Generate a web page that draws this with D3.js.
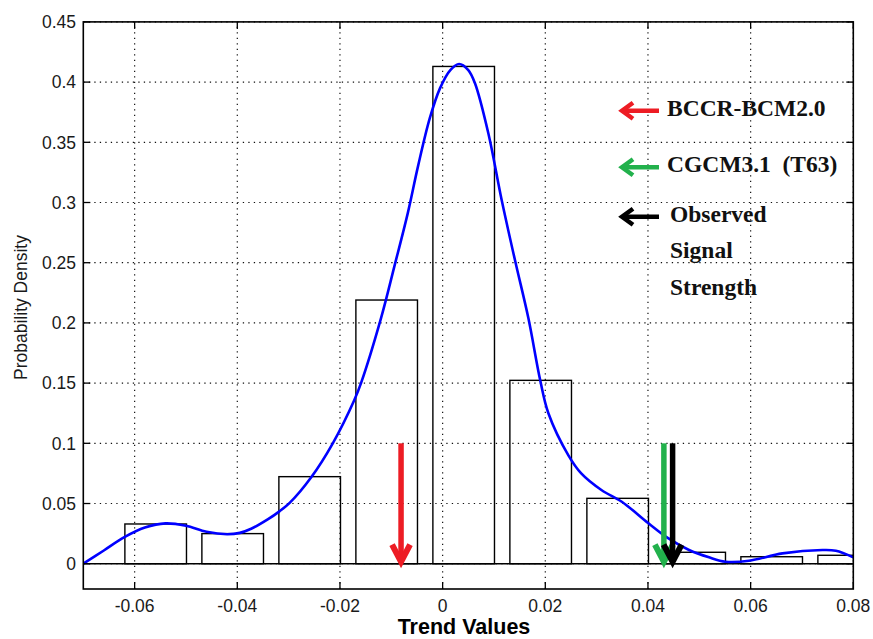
<!DOCTYPE html>
<html>
<head>
<meta charset="utf-8">
<script src="https://cdn.jsdelivr.net/npm/d3@7/dist/d3.min.js"></script>
<style>
  html, body { margin: 0; padding: 0; background: #fff; }
  svg { display: block; }
</style>
</head>
<body>
<svg id="chart" width="873" height="639"></svg>
<script>
// Histogram of trend values (bin centres and probability density)
const binCenters = [-0.0559, -0.0409, -0.0259, -0.0109, 0.0041, 0.0191, 0.0341, 0.0491, 0.0641, 0.0791];
const binDensity = [0.033, 0.025, 0.0723, 0.219, 0.413, 0.1523, 0.0543, 0.0095, 0.0058, 0.007];

// Kernel density estimate of the same sample
const kdeX = [-0.0700, -0.0660, -0.0620, -0.0580, -0.0540, -0.0500, -0.0460, -0.0420, -0.0395, -0.0373,
              -0.0340, -0.0318, -0.0298, -0.0256, -0.0214, -0.0172, -0.0159, -0.0120, -0.0094, -0.0068,
              -0.0048, -0.0025, -0.0005, 0.0015, 0.0032, 0.0050, 0.0063, 0.0089, 0.0115, 0.0141,
              0.0167, 0.0190, 0.0206, 0.0245, 0.0270, 0.0310, 0.0349, 0.0401, 0.0440, 0.0480,
              0.0519, 0.0551, 0.0597, 0.0662, 0.0740, 0.0766, 0.0800];
const kdeY = [0.000, 0.011, 0.022, 0.030, 0.0335, 0.0315, 0.0265, 0.0245, 0.0256, 0.0290,
              0.0370, 0.0435, 0.0505, 0.0718, 0.1000, 0.1360, 0.1500, 0.2040, 0.2470, 0.2910,
              0.3300, 0.3700, 0.3950, 0.4100, 0.4150, 0.4100, 0.3990, 0.3575, 0.3020, 0.2520,
              0.2040, 0.1526, 0.1250, 0.0900, 0.0750, 0.0610, 0.0515, 0.0336, 0.0210, 0.0114,
              0.0053, 0.0017, 0.0025, 0.0086, 0.0114, 0.0108, 0.0053];

// Signal-strength markers (trend value of each model / observation)
const markerNames  = ["BCCR-BCM2.0", "CGCM3.1\u00a0\u00a0(T63)", "Observed"];
const markerTrend  = [-0.0081, 0.0431, 0.0448];
const markerColors = ["#ed1c24", "#22b14c", "#000000"];
const markerTop = 0.1;

// Axis ticks
const xTicks = [-0.06, -0.04, -0.02, 0, 0.02, 0.04, 0.06, 0.08];
const xTickLabels = ["-0.06", "-0.04", "-0.02", "0", "0.02", "0.04", "0.06", "0.08"];
const yTicks = [0, 0.05, 0.1, 0.15, 0.2, 0.25, 0.3, 0.35, 0.4, 0.45];
const yTickLabels = ["0", "0.05", "0.1", "0.15", "0.2", "0.25", "0.3", "0.35", "0.4", "0.45"];

const svg = d3.select("#chart");
const L = 83.3, R = 853.3, T = 21.9, B = 589;

const x = d3.scaleLinear().domain([-0.07, 0.08]).range([L, R]);
const y = d3.scaleLinear().domain([-0.021, 0.45]).range([B, T]);

svg.append("defs").append("clipPath").attr("id", "plotClip")
  .append("rect").attr("x", L).attr("y", T).attr("width", R - L).attr("height", B - T);

// dotted grid
const grid = svg.append("g").attr("stroke", "#111").attr("stroke-width", 1.2)
  .attr("stroke-dasharray", "1.3,4.2");
grid.selectAll("line.gx").data(xTicks).join("line")
  .attr("x1", d => x(d)).attr("x2", d => x(d)).attr("y1", B).attr("y2", T);
grid.selectAll("line.gy").data(yTicks).join("line")
  .attr("y1", d => y(d)).attr("y2", d => y(d)).attr("x1", L).attr("x2", R);

const plot = svg.append("g").attr("clip-path", "url(#plotClip)");

// histogram bars (unfilled)
const step = binCenters[1] - binCenters[0];
const barW = 0.8 * step;
plot.selectAll("rect.bar").data(binCenters).join("rect")
  .attr("x", d => x(d - barW / 2))
  .attr("width", d => x(d + barW / 2) - x(d - barW / 2))
  .attr("y", (d, i) => y(binDensity[i]))
  .attr("height", (d, i) => y(0) - y(binDensity[i]))
  .attr("fill", "none").attr("stroke", "#000").attr("stroke-width", 1.4);

// bar baseline
plot.append("line").attr("x1", L).attr("x2", R).attr("y1", y(0)).attr("y2", y(0))
  .attr("stroke", "#000").attr("stroke-width", 1.4);

// density curve
const line = d3.line().x(d => x(d[0])).y(d => y(d[1])).curve(d3.curveCatmullRom.alpha(0.5));
plot.append("path").datum(kdeX.map((v, i) => [v, kdeY[i]]))
  .attr("d", line).attr("fill", "none").attr("stroke", "#0000ff").attr("stroke-width", 2.6);

// vertical marker arrows
markerTrend.forEach((v, i) => {
  const g = svg.append("g").attr("stroke", markerColors[i]).attr("fill", "none")
    .attr("stroke-linecap", "butt");
  const xp = x(v), y0 = y(markerTop), y1 = y(0) + 1;
  g.append("line").attr("x1", xp).attr("x2", xp).attr("y1", y0).attr("y2", y1 - 3)
    .attr("stroke-width", 5.5);
  g.append("path")
    .attr("d", `M${xp - 9},${y1 - 20} L${xp},${y1 - 3} L${xp + 9},${y1 - 20}`)
    .attr("stroke-width", 6).attr("stroke-linejoin", "miter").attr("stroke-miterlimit", 10);
});

// axes box
svg.append("rect").attr("x", L).attr("y", T).attr("width", R - L).attr("height", B - T)
  .attr("fill", "none").attr("stroke", "#000").attr("stroke-width", 1.6);

// inward ticks on all four sides
const tk = 7;
const ticks = svg.append("g").attr("stroke", "#000").attr("stroke-width", 1.3);
xTicks.forEach(d => {
  ticks.append("line").attr("x1", x(d)).attr("x2", x(d)).attr("y1", B).attr("y2", B - tk);
  ticks.append("line").attr("x1", x(d)).attr("x2", x(d)).attr("y1", T).attr("y2", T + tk);
});
yTicks.forEach(d => {
  ticks.append("line").attr("y1", y(d)).attr("y2", y(d)).attr("x1", L).attr("x2", L + tk);
  ticks.append("line").attr("y1", y(d)).attr("y2", y(d)).attr("x1", R).attr("x2", R - tk);
});

// tick labels
const tickFont = "'Liberation Sans', Arial, sans-serif";
svg.append("g").selectAll("text").data(xTicks).join("text")
  .attr("x", d => x(d)).attr("y", 611.5)
  .attr("text-anchor", "middle")
  .attr("font-family", tickFont).attr("font-size", 17.5).attr("fill", "#1a1a1a")
  .text((d, i) => xTickLabels[i]);
svg.append("g").selectAll("text").data(yTicks).join("text")
  .attr("x", 76).attr("y", d => y(d) + 6.3)
  .attr("text-anchor", "end")
  .attr("font-family", tickFont).attr("font-size", 17.5).attr("fill", "#1a1a1a")
  .text((d, i) => yTickLabels[i]);

// axis titles
svg.append("text").attr("x", 464).attr("y", 634).attr("text-anchor", "middle")
  .attr("font-family", tickFont).attr("font-weight", "bold").attr("font-size", 21.5)
  .attr("fill", "#000").text("Trend Values");
svg.append("text").attr("transform", "translate(26.5,307.5) rotate(-90)")
  .attr("text-anchor", "middle")
  .attr("font-family", tickFont).attr("font-size", 17.5).attr("fill", "#1a1a1a")
  .text("Probability Density");

// legend: left-pointing arrows with model names
const legendRows = [110.7, 167.3, 216.7];
const legendText = [116, 172, 221.7];
const serif = "'Liberation Serif', 'Times New Roman', serif";
const legendSize = 23.5;
markerNames.forEach((name, i) => {
  const yy = legendRows[i];
  const g = svg.append("g").attr("stroke", markerColors[i]).attr("fill", "none")
    .attr("stroke-width", 4.5);
  g.append("line").attr("x1", 659).attr("x2", 624).attr("y1", yy).attr("y2", yy);
  g.append("path").attr("d", `M633,${yy - 8} L622,${yy} L633,${yy + 8}`)
    .attr("stroke-linejoin", "miter");
  svg.append("text").attr("x", i === 2 ? 670 : 667).attr("y", legendText[i])
    .attr("font-family", serif).attr("font-weight", "bold").attr("font-size", legendSize)
    .attr("fill", "#111").text(name);
});
["Signal", "Strength"].forEach((t, k) => {
  svg.append("text").attr("x", 670).attr("y", [258.3, 295][k])
    .attr("font-family", serif).attr("font-weight", "bold").attr("font-size", legendSize)
    .attr("fill", "#111").text(t);
});
</script>
</body>
</html>
